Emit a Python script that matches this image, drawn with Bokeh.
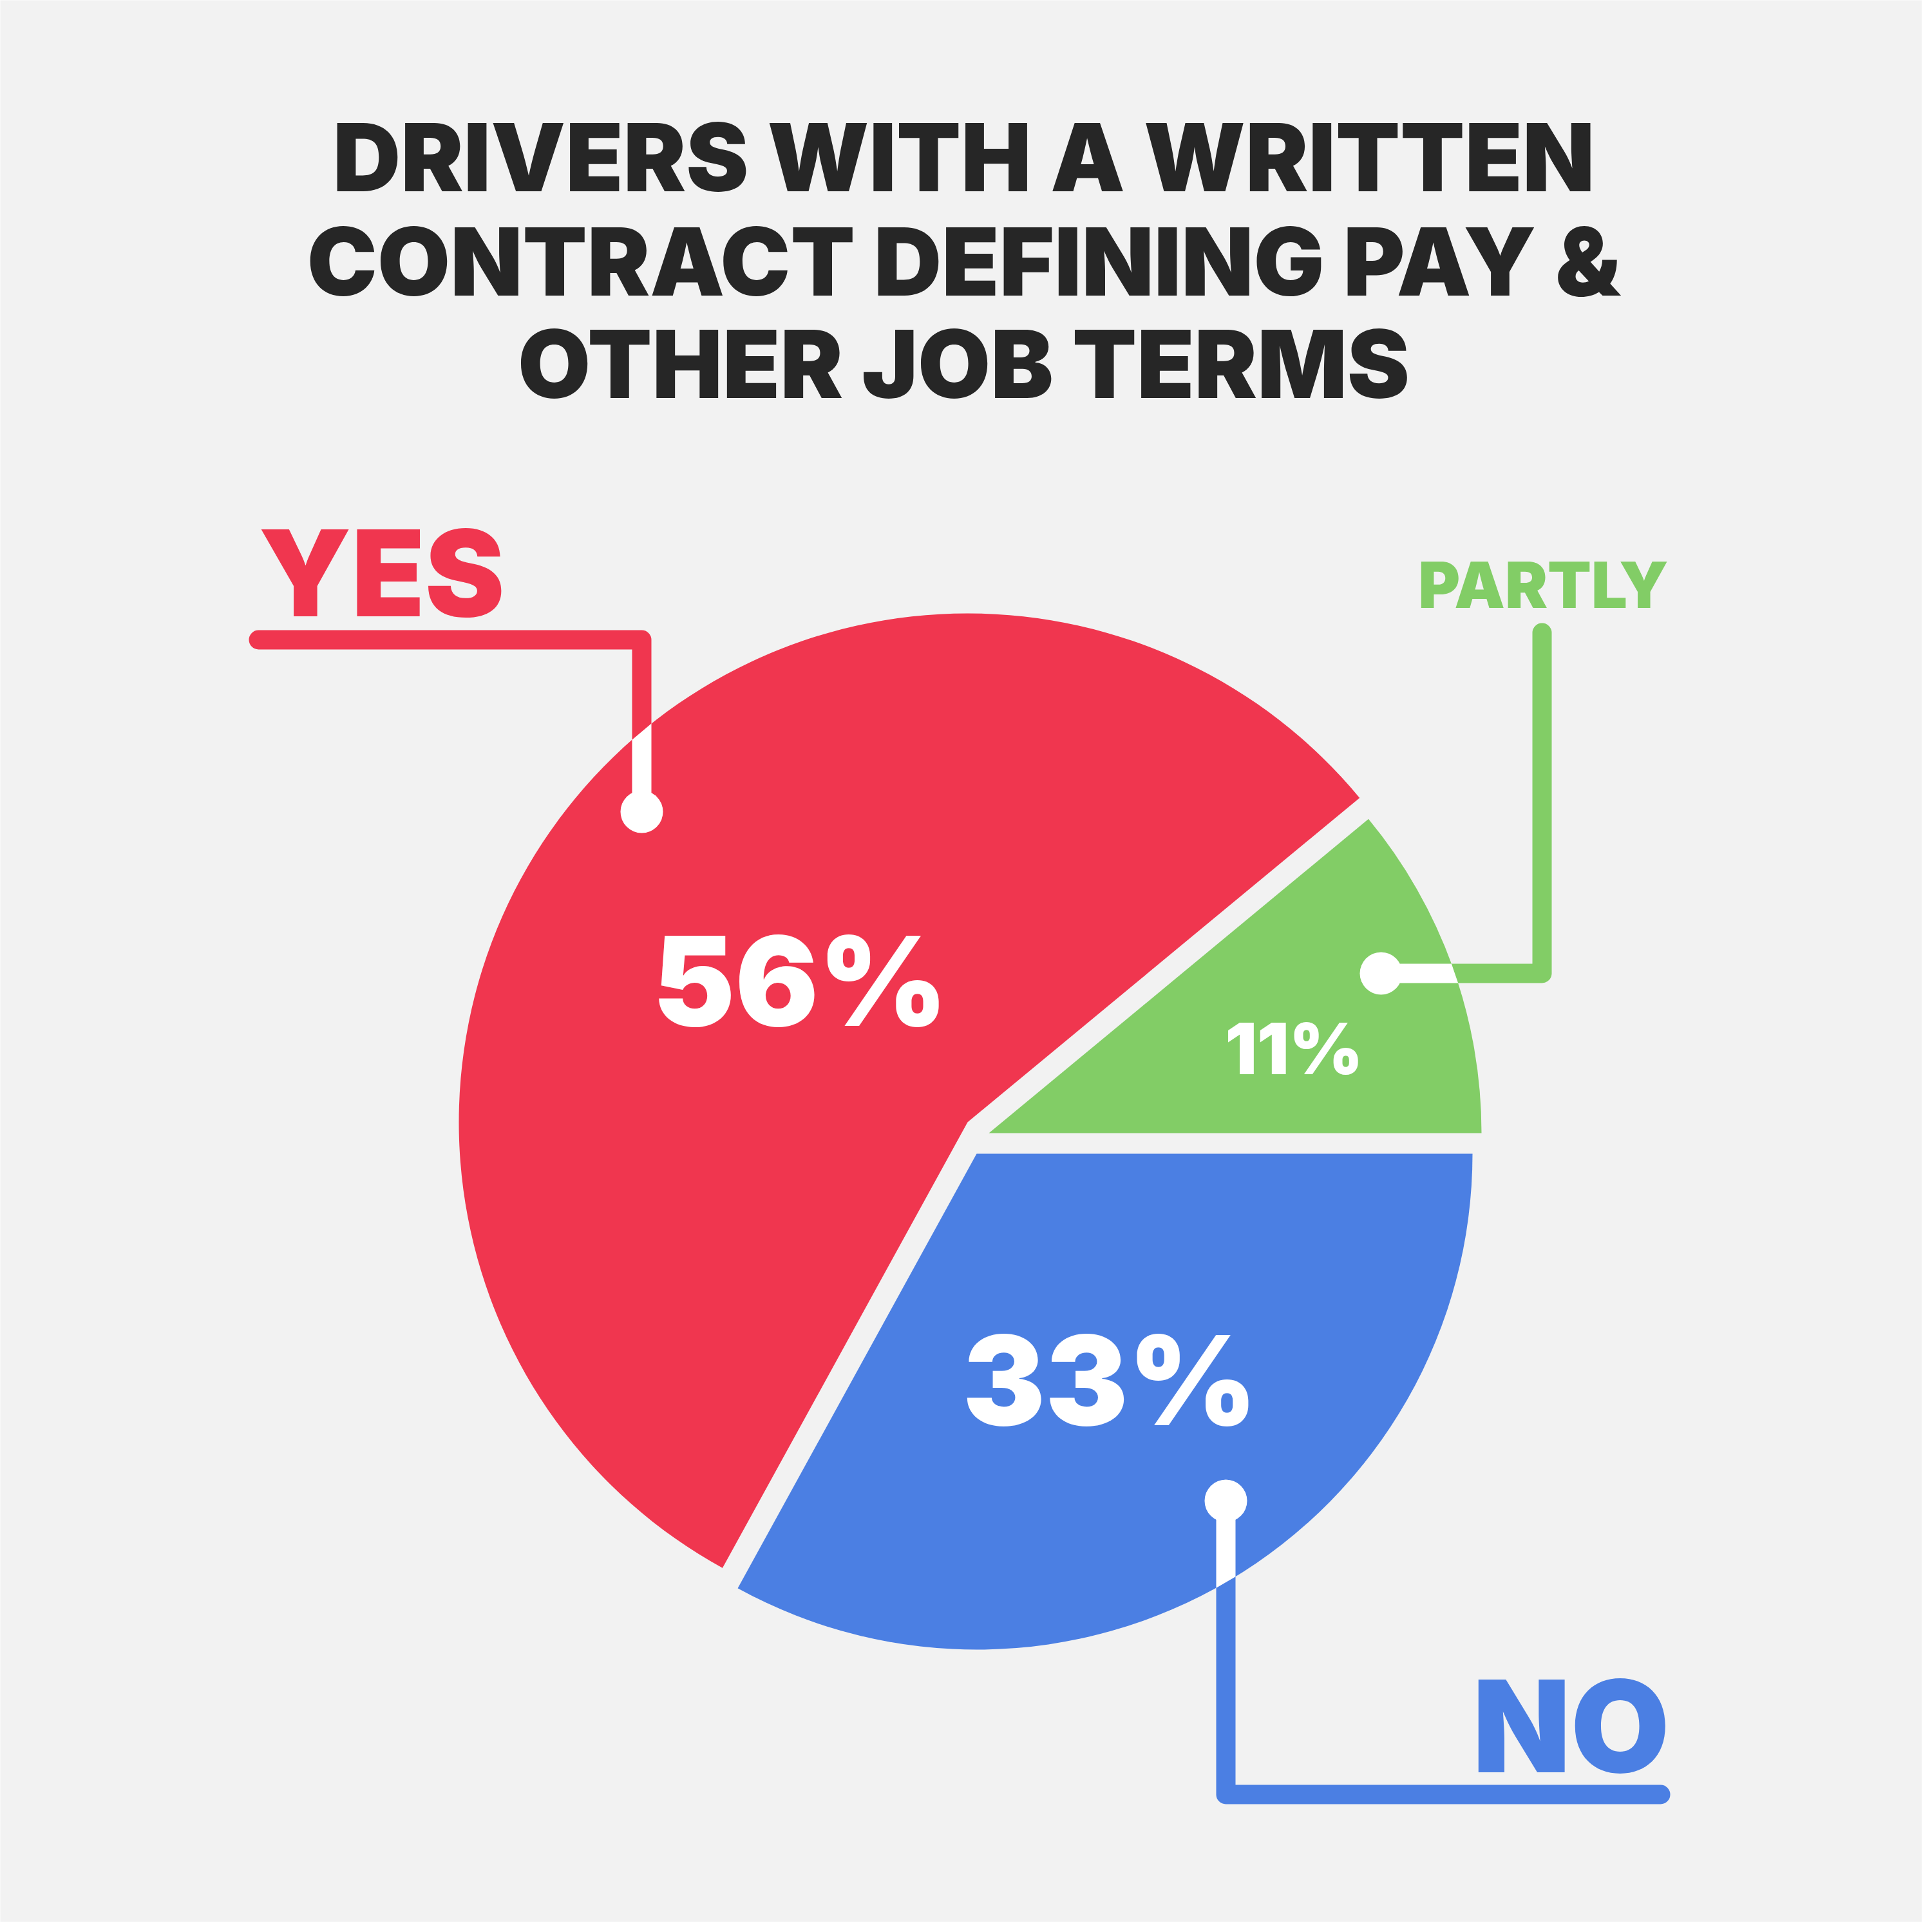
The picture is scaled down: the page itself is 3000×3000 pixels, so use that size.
import numpy as np
from bokeh.plotting import figure
from bokeh.models import Range1d, ColumnDataSource, Label
from bokeh.embed import file_html
from bokeh.resources import INLINE

# ---------------- data ----------------
categories = ["Partly", "Yes", "No"]          # counter-clockwise from 3 o'clock
shares = [11, 56, 33]                          # percent
category_labels = ["PARTLY", "YES", "NO"]
title_lines = ["DRIVERS WITH A WRITTEN", "CONTRACT DEFINING PAY &", "OTHER JOB TERMS"]

# ---------------- style ----------------
H = 3000
BG = "#F2F2F2"
TITLE_COLOR = "#262626"
colors = ["#82CD66", "#F0364F", "#4B7FE3"]
FONT = "Inter Black, Inter"
BASE_SHIFT = 0.31   # em offset so that Label's alphabetic baseline lands on target


def Y(v):
    return H - v


# slice apex positions (screen px) and radii (exploded pie)
slice_cx = [1543, 1510, 1524]
slice_cy = [1767, 1750, 1799]
slice_r = [765, 790, 770]

# percentage label anchors (center, baseline) and sizes (px, keep < 200)
pct_x = [2017, 1250, 1731]
pct_y = [1670, 1590, 2210]
pct_size = [110, 192, 192]

# category label anchors
cat_x = [2404, 409, 2600]
cat_y = [946, 955, 2749]
cat_align = ["center", "left", "right"]
cat_size = [99, 186, 198]

# title anchors
title_x = 1504
title_y = [297, 459, 618]
title_size = 146

# callout paths (screen px): first point = far end, last point = dot
callouts = [
    [(2402, 990), (2402, 1519), (2152, 1519)],
    [(409, 1001), (1004, 1001), (1004, 1268)],
    [(2586, 2794), (1911, 2794), (1911, 2338)],
]
LW = 30
DOT_R = 33

# ---------------- figure ----------------
p = figure(width=2984, height=2984,
           x_range=Range1d(8, 2992), y_range=Range1d(8, 2992),
           output_backend="svg", toolbar_location=None,
           x_axis_type=None, y_axis_type=None, min_border=0,
           background_fill_color=BG, border_fill_color=BG,
           outline_line_color=None)
p.grid.visible = False

# callout lines (coloured, drawn under slices)
p.multi_line(xs=[[pt[0] for pt in c] for c in callouts],
             ys=[[Y(pt[1]) for pt in c] for c in callouts],
             line_color=colors, line_width=LW,
             line_cap="round", line_join="round")

# slices
frac = np.array(shares, dtype=float) / sum(shares)
cum = np.concatenate([[0.0], np.cumsum(frac)]) * 2 * np.pi
src = ColumnDataSource(dict(
    x=slice_cx, y=[Y(v) for v in slice_cy], r=slice_r,
    start=cum[:-1], end=cum[1:], color=colors, cat=categories))
p.wedge(x="x", y="y", radius="r", start_angle="start", end_angle="end",
        fill_color="color", line_color=None, source=src)

# white part of each callout inside its slice
wx, wy = [], []
for i, c in enumerate(callouts):
    (xd, yd), (xc, yc) = c[-1], c[-2]
    cx, cy, R = slice_cx[i], slice_cy[i], slice_r[i]
    if xd == xc:  # vertical segment
        s = np.sign(yc - yd)
        e1 = cy + s * np.sqrt(R**2 - (xd - LW / 2 - cx) ** 2)
        e2 = cy + s * np.sqrt(R**2 - (xd + LW / 2 - cx) ** 2)
        poly = [(xd - LW / 2, yd), (xd - LW / 2, e1), (xd + LW / 2, e2), (xd + LW / 2, yd)]
    else:  # horizontal segment
        s = np.sign(xc - xd)
        e1 = cx + s * np.sqrt(R**2 - (yd - LW / 2 - cy) ** 2)
        e2 = cx + s * np.sqrt(R**2 - (yd + LW / 2 - cy) ** 2)
        poly = [(xd, yd - LW / 2), (e1, yd - LW / 2), (e2, yd + LW / 2), (xd, yd + LW / 2)]
    wx.append([pt[0] for pt in poly])
    wy.append([Y(pt[1]) for pt in poly])
p.patches(xs=wx, ys=wy, fill_color="white", line_color=None)
p.circle(x=[c[-1][0] for c in callouts], y=[Y(c[-1][1]) for c in callouts],
         radius=DOT_R, fill_color="white", line_color=None)


def add_label(x, base, text, size, color, align):
    p.add_layout(Label(x=x, y=Y(base) + BASE_SHIFT * size, text=text,
                       text_font=FONT, text_font_style="bold",
                       text_font_size=f"{size}px", text_color=color,
                       text_align=align, text_baseline="alphabetic"))


# title
for line, ty in zip(title_lines, title_y):
    add_label(title_x, ty, line, title_size, TITLE_COLOR, "center")

# category labels
for i in range(len(categories)):
    add_label(cat_x[i], cat_y[i], category_labels[i], cat_size[i], colors[i], cat_align[i])

# percentage labels
for i in range(len(categories)):
    add_label(pct_x[i], pct_y[i], f"{shares[i]}%", pct_size[i], "white", "center")

open("out.html", "w").write(file_html(p, INLINE))
